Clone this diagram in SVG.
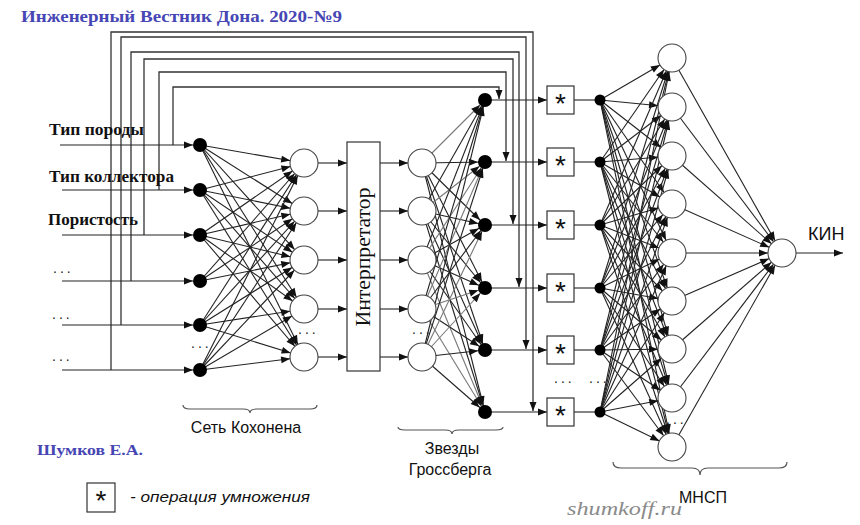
<svg xmlns="http://www.w3.org/2000/svg" width="860" height="525" viewBox="0 0 860 525">
<style>
.c{stroke:#222;stroke-width:1.1;fill:none}
.g{stroke:#777;stroke-width:1.1;fill:none}
.fb{stroke:#333;stroke-width:1.3;fill:none}
.a0{marker-end:url(#a0)}
.a7{marker-end:url(#a7)}
.a14{marker-end:url(#a14)}
.n{fill:#fff;stroke:#444;stroke-width:1.1}
.d{fill:#000}
.box{fill:#fff;stroke:#333;stroke-width:1.2}
.br{fill:none;stroke:#555;stroke-width:1.2}
.lbl{font-family:"Liberation Serif",serif;font-weight:bold;font-size:16px;fill:#111}
.blue{font-family:"Liberation Serif",serif;font-weight:bold;fill:#4646b4}
.sans{font-family:"Liberation Sans",Arial,sans-serif;font-size:16px;fill:#111}
.dots{font-family:"Liberation Sans",sans-serif;font-size:14px;fill:#222;letter-spacing:3px}
.ast{font-family:"Liberation Sans",sans-serif;font-size:28px;fill:#111;text-anchor:middle}
</style>
<defs>
<marker id="a0" markerUnits="userSpaceOnUse" markerWidth="10" markerHeight="8" refX="9" refY="3.5" orient="auto" overflow="visible"><path d="M0,0 L9,3.5 L0,7z" fill="#111"/></marker>
<marker id="a7" markerUnits="userSpaceOnUse" markerWidth="17" markerHeight="8" refX="16" refY="3.5" orient="auto" overflow="visible"><path d="M0,0 L9,3.5 L0,7z" fill="#111"/></marker>
<marker id="a14" markerUnits="userSpaceOnUse" markerWidth="24" markerHeight="8" refX="23" refY="3.5" orient="auto" overflow="visible"><path d="M0,0 L9,3.5 L0,7z" fill="#111"/></marker>
</defs>
<rect width="860" height="525" fill="#fff"/>

<text class="blue" x="21" y="22" font-size="17" textLength="321" lengthAdjust="spacingAndGlyphs">Инженерный Вестник Дона. 2020-№9</text>

<g id="connectors">
<!-- feedback lines -->
<polyline class="fb a0" points="173,145 173,87 499,87 499,99"/>
<polyline class="fb a0" points="159,190 159,72 506,72 506,161"/>
<polyline class="fb a0" points="144,235 144,59 513,59 513,224"/>
<polyline class="fb a0" points="131,281 131,52 519,52 519,287"/>
<polyline class="fb a0" points="121,325 121,37 526,37 526,349"/>
<polyline class="fb a0" points="111,370 111,32 533,32 533,411"/>
<!-- inputs -->
<line class="c a0" x1="60" y1="145" x2="193" y2="145"/>
<line class="c a0" x1="62" y1="190" x2="193" y2="190"/>
<line class="c a0" x1="62" y1="235" x2="193" y2="235"/>
<line class="c a0" x1="62" y1="281" x2="193" y2="281"/>
<line class="c a0" x1="62" y1="325" x2="193" y2="325"/>
<line class="c a0" x1="62" y1="370" x2="193" y2="370"/>
<!-- input dots to Kohonen -->
<line class="c a14" x1="200" y1="145" x2="304" y2="163"/><line class="c a14" x1="200" y1="145" x2="304" y2="211"/><line class="c a14" x1="200" y1="145" x2="304" y2="260"/><line class="c a14" x1="200" y1="145" x2="304" y2="309"/><line class="c a14" x1="200" y1="145" x2="304" y2="357"/>
<line class="c a14" x1="200" y1="190" x2="304" y2="163"/><line class="c a14" x1="200" y1="190" x2="304" y2="211"/><line class="c a14" x1="200" y1="190" x2="304" y2="260"/><line class="c a14" x1="200" y1="190" x2="304" y2="309"/><line class="c a14" x1="200" y1="190" x2="304" y2="357"/>
<line class="c a14" x1="200" y1="235" x2="304" y2="163"/><line class="c a14" x1="200" y1="235" x2="304" y2="211"/><line class="c a14" x1="200" y1="235" x2="304" y2="260"/><line class="c a14" x1="200" y1="235" x2="304" y2="309"/><line class="c a14" x1="200" y1="235" x2="304" y2="357"/>
<line class="c a14" x1="200" y1="281" x2="304" y2="163"/><line class="c a14" x1="200" y1="281" x2="304" y2="211"/><line class="c a14" x1="200" y1="281" x2="304" y2="260"/>
<line class="c a14" x1="200" y1="325" x2="304" y2="163"/><line class="c a14" x1="200" y1="325" x2="304" y2="211"/><line class="c a14" x1="200" y1="325" x2="304" y2="260"/><line class="c a14" x1="200" y1="325" x2="304" y2="309"/><line class="c a14" x1="200" y1="325" x2="304" y2="357"/>
<line class="c a14" x1="200" y1="370" x2="304" y2="163"/><line class="c a14" x1="200" y1="370" x2="304" y2="211"/><line class="c a14" x1="200" y1="370" x2="304" y2="260"/><line class="c a14" x1="200" y1="370" x2="304" y2="309"/><line class="c a14" x1="200" y1="370" x2="304" y2="357"/>
<!-- Kohonen to interpreter -->
<line class="c a0" x1="318" y1="163" x2="347" y2="163"/><line class="c a0" x1="318" y1="211" x2="347" y2="211"/><line class="c a0" x1="318" y1="260" x2="347" y2="260"/><line class="c a0" x1="318" y1="309" x2="347" y2="309"/><line class="c a0" x1="318" y1="357" x2="347" y2="357"/>
<!-- interpreter to Grossberg -->
<line class="c a0" x1="380" y1="163" x2="408" y2="163"/><line class="c a0" x1="380" y1="211" x2="408" y2="211"/><line class="c a0" x1="380" y1="260" x2="408" y2="260"/><line class="c a0" x1="380" y1="309" x2="408" y2="309"/><line class="c a0" x1="380" y1="357" x2="408" y2="357"/>
<!-- Grossberg stars -->
<line class="g a7" x1="422" y1="163" x2="485" y2="100"/><line class="c a7" x1="422" y1="163" x2="485" y2="162"/><line class="c a7" x1="422" y1="163" x2="485" y2="225"/><line class="c a7" x1="422" y1="163" x2="485" y2="288"/><line class="c a7" x1="422" y1="163" x2="485" y2="350"/><line class="c a7" x1="422" y1="163" x2="485" y2="412"/>
<line class="c a7" x1="422" y1="211" x2="485" y2="100"/><line class="g a7" x1="422" y1="211" x2="485" y2="162"/><line class="c a7" x1="422" y1="211" x2="485" y2="225"/><line class="c a7" x1="422" y1="211" x2="485" y2="288"/><line class="c a7" x1="422" y1="211" x2="485" y2="350"/><line class="c a7" x1="422" y1="211" x2="485" y2="412"/>
<line class="c a7" x1="422" y1="260" x2="485" y2="100"/><line class="g a7" x1="422" y1="260" x2="485" y2="162"/><line class="c a7" x1="422" y1="260" x2="485" y2="225"/><line class="c a7" x1="422" y1="260" x2="485" y2="288"/><line class="c a7" x1="422" y1="260" x2="485" y2="350"/><line class="g a7" x1="422" y1="260" x2="485" y2="412"/>
<line class="c a7" x1="422" y1="309" x2="485" y2="100"/><line class="g a7" x1="422" y1="309" x2="485" y2="162"/><line class="c a7" x1="422" y1="309" x2="485" y2="225"/><line class="g a7" x1="422" y1="309" x2="485" y2="288"/><line class="c a7" x1="422" y1="309" x2="485" y2="350"/><line class="g a7" x1="422" y1="309" x2="485" y2="412"/>
<line class="c a7" x1="422" y1="357" x2="485" y2="100"/><line class="c a7" x1="422" y1="357" x2="485" y2="162"/><line class="g a7" x1="422" y1="357" x2="485" y2="225"/><line class="g a7" x1="422" y1="357" x2="485" y2="288"/><line class="c a7" x1="422" y1="357" x2="485" y2="350"/><line class="c a7" x1="422" y1="357" x2="485" y2="412"/>
<!-- star outputs to multipliers -->
<line class="c a0" x1="485" y1="100" x2="547" y2="100"/><line class="c a0" x1="485" y1="162" x2="547" y2="162"/><line class="c a0" x1="485" y1="225" x2="547" y2="225"/><line class="c a0" x1="485" y1="288" x2="547" y2="288"/><line class="c a0" x1="485" y1="350" x2="547" y2="350"/><line class="c a0" x1="485" y1="412" x2="547" y2="412"/>
<!-- multipliers to MNSP inputs -->
<line class="c" x1="574" y1="100" x2="600" y2="100"/><line class="c" x1="574" y1="162" x2="600" y2="162"/><line class="c" x1="574" y1="225" x2="600" y2="225"/><line class="c" x1="574" y1="288" x2="600" y2="288"/><line class="c" x1="574" y1="350" x2="600" y2="350"/><line class="c" x1="574" y1="412" x2="600" y2="412"/>
<!-- MNSP input to hidden -->
<line class="c a14" x1="600" y1="100" x2="672" y2="58"/><line class="c a14" x1="600" y1="100" x2="672" y2="107"/><line class="c a14" x1="600" y1="100" x2="672" y2="156"/><line class="c a14" x1="600" y1="100" x2="672" y2="204"/><line class="c a14" x1="600" y1="100" x2="672" y2="253"/><line class="c a14" x1="600" y1="100" x2="672" y2="301"/><line class="c a14" x1="600" y1="100" x2="672" y2="349"/><line class="c a14" x1="600" y1="100" x2="672" y2="398"/><line class="c a14" x1="600" y1="100" x2="672" y2="447"/>
<line class="c a14" x1="600" y1="162" x2="672" y2="58"/><line class="c a14" x1="600" y1="162" x2="672" y2="107"/><line class="c a14" x1="600" y1="162" x2="672" y2="156"/><line class="c a14" x1="600" y1="162" x2="672" y2="204"/><line class="c a14" x1="600" y1="162" x2="672" y2="253"/><line class="c a14" x1="600" y1="162" x2="672" y2="301"/><line class="c a14" x1="600" y1="162" x2="672" y2="349"/><line class="c a14" x1="600" y1="162" x2="672" y2="398"/><line class="c a14" x1="600" y1="162" x2="672" y2="447"/>
<line class="c a14" x1="600" y1="225" x2="672" y2="58"/><line class="c a14" x1="600" y1="225" x2="672" y2="107"/><line class="c a14" x1="600" y1="225" x2="672" y2="156"/><line class="c a14" x1="600" y1="225" x2="672" y2="204"/><line class="c a14" x1="600" y1="225" x2="672" y2="253"/><line class="c a14" x1="600" y1="225" x2="672" y2="301"/><line class="c a14" x1="600" y1="225" x2="672" y2="349"/><line class="c a14" x1="600" y1="225" x2="672" y2="398"/><line class="c a14" x1="600" y1="225" x2="672" y2="447"/>
<line class="c a14" x1="600" y1="288" x2="672" y2="58"/><line class="c a14" x1="600" y1="288" x2="672" y2="107"/><line class="c a14" x1="600" y1="288" x2="672" y2="156"/><line class="c a14" x1="600" y1="288" x2="672" y2="204"/><line class="c a14" x1="600" y1="288" x2="672" y2="253"/><line class="c a14" x1="600" y1="288" x2="672" y2="301"/><line class="c a14" x1="600" y1="288" x2="672" y2="349"/><line class="c a14" x1="600" y1="288" x2="672" y2="398"/><line class="c a14" x1="600" y1="288" x2="672" y2="447"/>
<line class="c a14" x1="600" y1="350" x2="672" y2="58"/><line class="c a14" x1="600" y1="350" x2="672" y2="107"/><line class="c a14" x1="600" y1="350" x2="672" y2="156"/><line class="c a14" x1="600" y1="350" x2="672" y2="204"/><line class="c a14" x1="600" y1="350" x2="672" y2="253"/><line class="c a14" x1="600" y1="350" x2="672" y2="301"/><line class="c a14" x1="600" y1="350" x2="672" y2="349"/><line class="c a14" x1="600" y1="350" x2="672" y2="398"/><line class="c a14" x1="600" y1="350" x2="672" y2="447"/>
<line class="c a14" x1="600" y1="412" x2="672" y2="58"/><line class="c a14" x1="600" y1="412" x2="672" y2="107"/><line class="c a14" x1="600" y1="412" x2="672" y2="156"/><line class="c a14" x1="600" y1="412" x2="672" y2="204"/><line class="c a14" x1="600" y1="412" x2="672" y2="253"/><line class="c a14" x1="600" y1="412" x2="672" y2="301"/><line class="c a14" x1="600" y1="412" x2="672" y2="349"/><line class="c a14" x1="600" y1="412" x2="672" y2="398"/><line class="c a14" x1="600" y1="412" x2="672" y2="447"/>
<!-- hidden to output -->
<line class="c a14" x1="672" y1="58" x2="782" y2="253"/><line class="c a14" x1="672" y1="107" x2="782" y2="253"/><line class="c a14" x1="672" y1="156" x2="782" y2="253"/><line class="c a14" x1="672" y1="204" x2="782" y2="253"/><line class="c a14" x1="672" y1="253" x2="782" y2="253"/><line class="c a14" x1="672" y1="301" x2="782" y2="253"/><line class="c a14" x1="672" y1="349" x2="782" y2="253"/><line class="c a14" x1="672" y1="398" x2="782" y2="253"/><line class="c a14" x1="672" y1="447" x2="782" y2="253"/>
<line class="c a0" x1="796" y1="253" x2="843" y2="253"/>
</g>

<g id="input-labels">
<text class="lbl" x="49" y="135" textLength="95" lengthAdjust="spacingAndGlyphs">Тип породы</text>
<text class="lbl" x="49" y="182" textLength="125" lengthAdjust="spacingAndGlyphs">Тип коллектора</text>
<text class="lbl" x="48" y="225" textLength="90" lengthAdjust="spacingAndGlyphs">Пористость</text>
<text class="dots" x="53" y="273">...</text>
<text class="dots" x="52" y="319">...</text>
<text class="dots" x="52" y="361">...</text>
</g>

<g id="input-dots">
<circle class="d" cx="200" cy="145" r="7"/><circle class="d" cx="200" cy="190" r="7"/><circle class="d" cx="200" cy="235" r="7"/><circle class="d" cx="200" cy="281" r="7"/><circle class="d" cx="200" cy="325" r="7"/><circle class="d" cx="200" cy="370" r="7"/>
<text class="dots" x="191" y="348">...</text>
</g>

<g id="kohonen">
<circle class="n" cx="304" cy="163" r="14"/><circle class="n" cx="304" cy="211" r="14"/><circle class="n" cx="304" cy="260" r="14"/><circle class="n" cx="304" cy="309" r="14"/><circle class="n" cx="304" cy="357" r="14"/>
<text class="dots" x="298" y="334">...</text>
</g>

<g id="interpreter">
<rect class="box" x="347" y="142" width="33" height="229"/>
<text transform="translate(370,257) rotate(-90)" text-anchor="middle" font-family="Liberation Serif,serif" font-size="20" fill="#111" textLength="139" lengthAdjust="spacingAndGlyphs">Интерпретатор</text>
</g>

<g id="grossberg">
<circle class="n" cx="422" cy="163" r="14"/><circle class="n" cx="422" cy="211" r="14"/><circle class="n" cx="422" cy="260" r="14"/><circle class="n" cx="422" cy="309" r="14"/><circle class="n" cx="422" cy="357" r="14"/>
<text class="dots" x="412" y="334">...</text>
<circle class="d" cx="485" cy="100" r="7"/><circle class="d" cx="485" cy="162" r="7"/><circle class="d" cx="485" cy="225" r="7"/><circle class="d" cx="485" cy="288" r="7"/><circle class="d" cx="485" cy="350" r="7"/><circle class="d" cx="485" cy="412" r="7"/>
</g>

<g id="multipliers">
<rect class="box" x="547" y="86" width="27" height="28"/><text class="ast" x="560.5" y="113">*</text>
<rect class="box" x="547" y="148" width="27" height="28"/><text class="ast" x="560.5" y="175">*</text>
<rect class="box" x="547" y="211" width="27" height="28"/><text class="ast" x="560.5" y="238">*</text>
<rect class="box" x="547" y="274" width="27" height="28"/><text class="ast" x="560.5" y="301">*</text>
<rect class="box" x="547" y="336" width="27" height="28"/><text class="ast" x="560.5" y="363">*</text>
<rect class="box" x="547" y="398" width="27" height="28"/><text class="ast" x="560.5" y="425">*</text>
<text class="dots" x="554" y="383">...</text>
</g>

<g id="mnsp">
<circle class="d" cx="600" cy="100" r="5.5"/><circle class="d" cx="600" cy="162" r="5.5"/><circle class="d" cx="600" cy="225" r="5.5"/><circle class="d" cx="600" cy="288" r="5.5"/><circle class="d" cx="600" cy="350" r="5.5"/><circle class="d" cx="600" cy="412" r="5.5"/>
<text class="dots" x="589" y="383">...</text>
<circle class="n" cx="672" cy="58" r="14"/><circle class="n" cx="672" cy="107" r="14"/><circle class="n" cx="672" cy="156" r="14"/><circle class="n" cx="672" cy="204" r="14"/><circle class="n" cx="672" cy="253" r="14"/><circle class="n" cx="672" cy="301" r="14"/><circle class="n" cx="672" cy="349" r="14"/><circle class="n" cx="672" cy="398" r="14"/><circle class="n" cx="672" cy="447" r="14"/>
<text class="dots" x="666" y="424">...</text>
</g>

<g id="output">
<circle class="n" cx="782" cy="253" r="14"/>
<text x="808" y="240" font-family="Liberation Sans,Arial,sans-serif" font-size="18" fill="#111">КИН</text>
</g>

<g id="braces">
<path class="br" d="M183,405 Q183,409 190,409 L243,409 Q250,409 250,413 Q250,409 257,409 L310,409 Q317,409 317,405"/>
<text class="sans" x="246" y="433" text-anchor="middle">Сеть Кохонена</text>
<path class="br" d="M398,427 Q398,430 405,430 L445,430 Q452,430 452,434 Q452,430 459,430 L496,430 Q503,430 503,427"/>
<text class="sans" x="452" y="454" text-anchor="middle">Звезды</text>
<text class="sans" x="450" y="475" text-anchor="middle">Гроссберга</text>
<path class="br" d="M613,462 Q613,468 621,468 L692,468 Q700,468 700,475 Q700,468 708,468 L779,468 Q787,468 787,462"/>
<text class="sans" x="703" y="503" text-anchor="middle">МНСП</text>
</g>

<g id="legend">
<text class="blue" x="37" y="455" font-size="15" textLength="106" lengthAdjust="spacingAndGlyphs">Шумков Е.А.</text>
<rect class="box" x="87" y="483" width="28" height="29"/>
<text class="ast" x="101" y="510">*</text>
<text x="130" y="502" font-family="Liberation Sans,Arial,sans-serif" font-style="italic" font-size="15" fill="#111" textLength="180" lengthAdjust="spacingAndGlyphs">- операция умножения</text>
<text x="567" y="515" font-family="Liberation Serif,serif" font-style="italic" font-size="18" fill="#8a8a8a" textLength="115" lengthAdjust="spacingAndGlyphs">shumkoff.ru</text>
</g>
</svg>
